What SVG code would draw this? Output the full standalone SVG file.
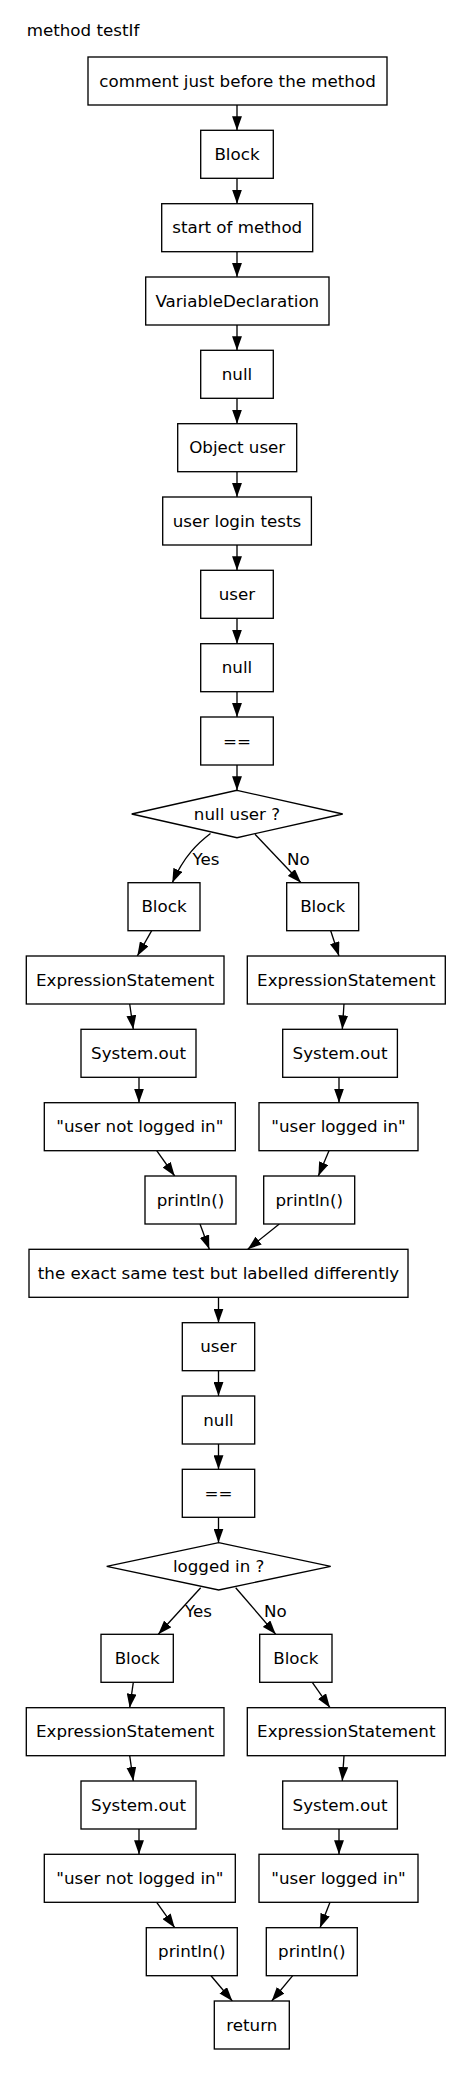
<svg xmlns="http://www.w3.org/2000/svg" width="472" height="2076" viewBox="0 0 472 2076">
<style>
text{font-family:"DejaVu Sans","Verdana",sans-serif;font-size:16.7px;fill:#000}
.n rect,.n polygon{fill:#fff;stroke:#000;stroke-width:1.33}
.n text{text-anchor:middle}
.e path{fill:none;stroke:#000;stroke-width:1.33;marker-end:url(#ah)}
</style>
<defs>
<marker id="ah" markerUnits="userSpaceOnUse" markerWidth="14" markerHeight="10" viewBox="0 0 13.3 9.4" refX="13.3" refY="4.7" orient="auto">
<path d="M0,0 L13.3,4.7 L0,9.4 z" fill="#000"/>
</marker>
</defs>
<rect width="472" height="2076" fill="#fff"/>
<text x="26.7" y="35.5">method testIf</text>

<g class="e" id="connectors">
<path d="M237,105 V130.3"/>
<path d="M237,178.3 V203.7"/>
<path d="M237,251.7 V277"/>
<path d="M237,325 V350.3"/>
<path d="M237,398.3 V423.7"/>
<path d="M237,471.7 V497"/>
<path d="M237,545 V570.3"/>
<path d="M237,618.3 V643.7"/>
<path d="M237,691.7 V717"/>
<path d="M237,765 V790.3"/>
<path d="M210.5,833.5 C198,843 184,856 172.3,882.7"/>
<path d="M255,834.3 L301,882.7"/>
<path d="M151.7,930.7 L137.3,956"/>
<path d="M330.7,930.7 L339,956"/>
<path d="M129.7,1004 L133.3,1029.3"/>
<path d="M344,1004 L342.3,1029.3"/>
<path d="M139,1077.3 V1102.7"/>
<path d="M339,1077.3 V1102.7"/>
<path d="M156.7,1150.7 L174.7,1176"/>
<path d="M329,1150.7 L318.3,1176"/>
<path d="M200,1224 L209.3,1249.3"/>
<path d="M279.3,1224 L247.7,1249.3"/>
<path d="M218.5,1297.3 V1322.7"/>
<path d="M218.5,1370.7 V1396"/>
<path d="M218.5,1444 V1469.3"/>
<path d="M218.5,1517.3 V1542.7"/>
<path d="M200.7,1587.7 L158.3,1634.3"/>
<path d="M235.7,1587.7 L275.7,1634.3"/>
<path d="M133.3,1682.3 L129.7,1707.7"/>
<path d="M312.3,1682.3 L330,1707.7"/>
<path d="M129.7,1755.7 L133.3,1781"/>
<path d="M344,1755.7 L342.3,1781"/>
<path d="M139,1829 V1854.3"/>
<path d="M339,1829 V1854.3"/>
<path d="M156.7,1902.3 L174.7,1927.7"/>
<path d="M330,1902.3 L320,1927.7"/>
<path d="M211,1975.7 L232.3,2001"/>
<path d="M292.7,1975.7 L271.7,2001"/>
<text x="192.5" y="865">Yes</text>
<text x="287" y="865">No</text>
<text x="185" y="1616.7">Yes</text>
<text x="264" y="1616.7">No</text>
</g>

<g class="n" id="n_comment"><rect x="88" y="57" width="299" height="48"/><text x="237.5" y="86.7">comment just before the method</text></g>
<g class="n" id="n_block0"><rect x="200.7" y="130.3" width="72.6" height="48"/><text x="237" y="160">Block</text></g>
<g class="n" id="n_start"><rect x="161.7" y="203.7" width="151" height="48"/><text x="237.2" y="233.4">start of method</text></g>
<g class="n" id="n_vardecl"><rect x="145.7" y="277" width="183.3" height="48"/><text x="237.3" y="306.7">VariableDeclaration</text></g>
<g class="n" id="n_null0"><rect x="200.7" y="350.3" width="72.6" height="48"/><text x="237" y="380">null</text></g>
<g class="n" id="n_objuser"><rect x="177.7" y="423.7" width="119" height="48"/><text x="237.2" y="453.4">Object user</text></g>
<g class="n" id="n_logintests"><rect x="162.7" y="497" width="148.7" height="48"/><text x="237" y="526.7">user login tests</text></g>
<g class="n" id="n_user1"><rect x="200.7" y="570.3" width="72.6" height="48"/><text x="237" y="600">user</text></g>
<g class="n" id="n_null1"><rect x="200.7" y="643.7" width="72.6" height="48"/><text x="237" y="673.4">null</text></g>
<g class="n" id="n_eq1"><rect x="200.7" y="717" width="72.6" height="48"/><text x="237" y="746.7">==</text></g>
<g class="n" id="n_if1"><polygon points="237,790.3 342.7,814 237,837.7 131.7,814"/><text x="237" y="819.7">null user ?</text></g>

<g class="n" id="n_blockY1"><rect x="128" y="882.7" width="72" height="48"/><text x="164" y="912.4">Block</text></g>
<g class="n" id="n_blockN1"><rect x="286.7" y="882.7" width="72" height="48"/><text x="322.7" y="912.4">Block</text></g>
<g class="n" id="n_esY1"><rect x="26.3" y="956" width="197.7" height="48"/><text x="125.2" y="985.7">ExpressionStatement</text></g>
<g class="n" id="n_esN1"><rect x="247.3" y="956" width="198" height="48"/><text x="346.3" y="985.7">ExpressionStatement</text></g>
<g class="n" id="n_soY1"><rect x="81" y="1029.3" width="115" height="48"/><text x="138.5" y="1059">System.out</text></g>
<g class="n" id="n_soN1"><rect x="282.7" y="1029.3" width="114.7" height="48"/><text x="340" y="1059">System.out</text></g>
<g class="n" id="n_strY1"><rect x="44.3" y="1102.7" width="191" height="48"/><text x="139.8" y="1132.4">"user not logged in"</text></g>
<g class="n" id="n_strN1"><rect x="259" y="1102.7" width="159" height="48"/><text x="338.5" y="1132.4">"user logged in"</text></g>
<g class="n" id="n_prY1"><rect x="145" y="1176" width="91" height="48"/><text x="190.5" y="1205.7">println()</text></g>
<g class="n" id="n_prN1"><rect x="263.7" y="1176" width="91" height="48"/><text x="309.2" y="1205.7">println()</text></g>

<g class="n" id="n_exact"><rect x="29" y="1249.3" width="379" height="48"/><text x="218.5" y="1279">the exact same test but labelled differently</text></g>
<g class="n" id="n_user2"><rect x="182.3" y="1322.7" width="72.4" height="48"/><text x="218.5" y="1352.4">user</text></g>
<g class="n" id="n_null2"><rect x="182.3" y="1396" width="72.4" height="48"/><text x="218.5" y="1425.7">null</text></g>
<g class="n" id="n_eq2"><rect x="182.3" y="1469.3" width="72.4" height="48"/><text x="218.5" y="1499">==</text></g>
<g class="n" id="n_if2"><polygon points="218.7,1542.7 330.7,1566.3 218.7,1590 106.7,1566.3"/><text x="218.7" y="1572">logged in ?</text></g>

<g class="n" id="n_blockY2"><rect x="101" y="1634.3" width="72.3" height="48"/><text x="137.2" y="1664">Block</text></g>
<g class="n" id="n_blockN2"><rect x="259.7" y="1634.3" width="72.3" height="48"/><text x="295.8" y="1664">Block</text></g>
<g class="n" id="n_esY2"><rect x="26.3" y="1707.7" width="197.7" height="48"/><text x="125.2" y="1737.4">ExpressionStatement</text></g>
<g class="n" id="n_esN2"><rect x="247.3" y="1707.7" width="198" height="48"/><text x="346.3" y="1737.4">ExpressionStatement</text></g>
<g class="n" id="n_soY2"><rect x="81" y="1781" width="115" height="48"/><text x="138.5" y="1810.7">System.out</text></g>
<g class="n" id="n_soN2"><rect x="282.7" y="1781" width="114.7" height="48"/><text x="340" y="1810.7">System.out</text></g>
<g class="n" id="n_strY2"><rect x="44.3" y="1854.3" width="191" height="48"/><text x="139.8" y="1884">"user not logged in"</text></g>
<g class="n" id="n_strN2"><rect x="259" y="1854.3" width="159" height="48"/><text x="338.5" y="1884">"user logged in"</text></g>
<g class="n" id="n_prY2"><rect x="146.3" y="1927.7" width="91" height="48"/><text x="191.8" y="1957.4">println()</text></g>
<g class="n" id="n_prN2"><rect x="266.3" y="1927.7" width="91" height="48"/><text x="311.8" y="1957.4">println()</text></g>
<g class="n" id="n_return"><rect x="214.3" y="2001" width="75" height="48"/><text x="251.8" y="2030.7">return</text></g>
</svg>
